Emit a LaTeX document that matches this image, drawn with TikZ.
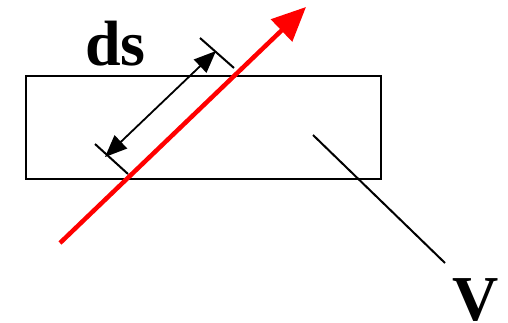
\documentclass[tikz,border=0pt]{standalone}
\usepackage{fontspec}
\setmainfont{Liberation Serif}
\usetikzlibrary{arrows.meta}
\begin{document}
\begin{tikzpicture}[x=1pt,y=-1pt,
  lbl/.style={font=\fontsize{64}{64}\selectfont\bfseries, inner sep=0pt, anchor=base west},
  boxline/.style={draw=black, line width=2.4pt},
  redarrow/.style={draw=red, line width=4.5pt, -{Triangle[length=34pt,width=30pt]}},
  dimarrow/.style={draw=black, line width=1.8pt, {Triangle[length=22pt,width=18pt]}-{Triangle[length=22pt,width=18pt]}},
  tick/.style={draw=black, line width=2pt},
  leader/.style={draw=black, line width=2pt}]
\useasboundingbox (0,0) rectangle (508,323);
% box
\node[boxline, minimum width=355pt, minimum height=103pt, inner sep=0pt, anchor=north west] (box) at (25,75) {};
% labels
\node[lbl] (ds) at (85,66) {ds};
\node[lbl] (V) at (452,320) {V};
% ticks
\coordinate (t1a) at (200,38);
\coordinate (t1b) at (234,68);
\coordinate (t2a) at (95,144);
\coordinate (t2b) at (128,174);
\draw[tick] (t1a) -- (t1b);
\draw[tick] (t2a) -- (t2b);
% dimension arrow
\coordinate (d1) at (216,51);
\coordinate (d2) at (105,157);
\draw[dimarrow] (d2) -- (d1);
% red arrow
\coordinate (r0) at (60,243);
\coordinate (r1) at (306,7);
\draw[redarrow] (r0) -- (r1);
% leader to V
\coordinate (l0) at (313,135);
\coordinate (l1) at (445,263);
\draw[leader] (l0) -- (l1);
\end{tikzpicture}
\end{document}
